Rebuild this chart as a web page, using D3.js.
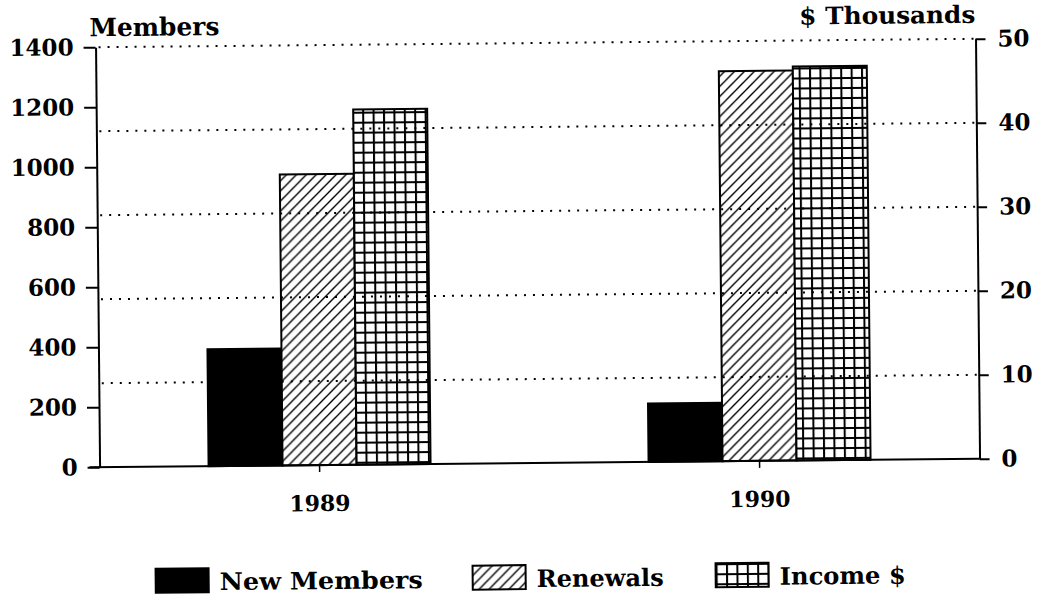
<!DOCTYPE html>
<html>
	<head>
		<meta charset="utf-8"/>
		<title>Members and Income</title>
		<script src="https://d3js.org/d3.v7.min.js"></script>
	</head>
	<style>
	body{ margin:0; background:#fff; }
	#well text{ font-family:"DejaVu Serif", serif; font-weight:bold; fill:#000; }
	#well .axis path, #well .axis line{ stroke:#000; stroke-width:2; }
	</style>
	<body>
	<div id='well'></div>
	<script>
		// values
		var years = ["1989", "1990"];
		var series = ["New Members", "Renewals", "Income $"];
		var newMembers = [390, 195];
		var renewals = [970, 1300];
		var income = [42.3, 46.9];          // $ thousands, right axis
		var memberTicks = [0, 200, 400, 600, 800, 1000, 1200, 1400];
		var dollarTicks = [0, 10, 20, 30, 40, 50];

		var width = 1037, height = 597;
		var plotLeft = 98, plotRight = 978, plotTop = 43, plotBottom = 463;

		var svg = d3.select('#well').append('svg')
			.attr('width', width)
			.attr('height', height);

		var defs = svg.append('defs');
		var hatch = defs.append('pattern')
			.attr('id', 'hatch')
			.attr('patternUnits', 'userSpaceOnUse')
			.attr('width', 10).attr('height', 10);
		hatch.append('rect').attr('width', 10).attr('height', 10).attr('fill', '#fff');
		hatch.append('path')
			.attr('d', 'M0,10 L10,0 M-2.5,2.5 L2.5,-2.5 M7.5,12.5 L12.5,7.5')
			.attr('stroke', '#000').attr('stroke-width', 1.4);

		var grid = defs.append('pattern')
			.attr('id', 'grid')
			.attr('patternUnits', 'userSpaceOnUse')
			.attr('width', 10.4).attr('height', 10);
		grid.append('rect').attr('width', 10.4).attr('height', 10).attr('fill', '#fff');
		grid.append('path')
			.attr('d', 'M1,0 V10 M0,1 H10.4')
			.attr('stroke', '#000').attr('stroke-width', 2);

		var fills = {"New Members": "#000", "Renewals": "url(#hatch)", "Income $": "url(#grid)"};

		// the scan is tilted a little
		var main = svg.append('g')
			.attr('transform', 'rotate(-0.55,538,300)');

		var x = d3.scalePoint().domain(years).range([plotLeft, plotRight]).padding(0.5);
		var x1 = d3.scaleBand().domain(series).range([-111, 111]);
		var yL = d3.scaleLinear().domain([0, 1400]).range([plotBottom, plotTop]);
		var yR = d3.scaleLinear().domain([0, 50]).range([plotBottom, plotTop]);

		var bars = [];
		years.forEach(function(yr, i){
			bars.push({year: yr, s: "New Members", v: newMembers[i], y: yL});
			bars.push({year: yr, s: "Renewals", v: renewals[i], y: yL});
			bars.push({year: yr, s: "Income $", v: income[i], y: yR});
		});

		main.selectAll('rect.bar')
			.data(bars)
			.enter().append('rect')
			.attr('class', 'bar')
			.attr('x', function(d){ return x(d.year) + x1(d.s); })
			.attr('width', x1.bandwidth())
			.attr('y', function(d){ return d.y(d.v); })
			.attr('height', function(d){ return plotBottom - d.y(d.v); })
			.attr('fill', function(d){ return fills[d.s]; })
			.attr('stroke', '#000')
			.attr('stroke-width', 2);

		// dotted grid on the $ ticks, lying over the bars
		main.selectAll('line.grid')
			.data(dollarTicks.slice(1))
			.enter().append('line')
			.attr('class', 'grid')
			.attr('x1', plotLeft + 3).attr('x2', plotRight - 2)
			.attr('y1', function(d){ return yR(d); })
			.attr('y2', function(d){ return yR(d); })
			.attr('stroke', '#000')
			.attr('stroke-width', 2)
			.attr('stroke-dasharray', '2,7');

		// x axis
		main.append('line')
			.attr('x1', plotLeft - 10).attr('x2', plotRight)
			.attr('y1', plotBottom).attr('y2', plotBottom)
			.attr('stroke', '#000').attr('stroke-width', 2);
		main.selectAll('line.xtick')
			.data(years)
			.enter().append('line')
			.attr('x1', function(d){ return x(d); })
			.attr('x2', function(d){ return x(d); })
			.attr('y1', plotBottom).attr('y2', plotBottom + 7)
			.attr('stroke', '#000').attr('stroke-width', 1.5);
		main.selectAll('text.xlab')
			.data(years)
			.enter().append('text')
			.attr('x', function(d){ return x(d); })
			.attr('y', plotBottom + 46)
			.attr('text-anchor', 'middle')
			.style('font-size', '22px')
			.text(function(d){ return d; });

		var yAxisL = d3.axisLeft(yL).tickValues(memberTicks).tickFormat(d3.format('d'))
			.tickSize(12).tickSizeOuter(0).tickPadding(10);
		var gl = main.append('g')
			.attr('class', 'axis')
			.attr('transform', 'translate(' + plotLeft + ',0)')
			.call(yAxisL);
		gl.selectAll('text').style('font-size', '23px');

		var yAxisR = d3.axisRight(yR).tickValues(dollarTicks).tickFormat(d3.format('d'))
			.tickSize(10).tickSizeOuter(0).tickPadding(12);
		var gr = main.append('g')
			.attr('class', 'axis')
			.attr('transform', 'translate(' + plotRight + ',0)')
			.call(yAxisR);
		gr.selectAll('text').style('font-size', '23px');

		main.append('text')
			.attr('x', 92).attr('y', 32)
			.attr('textLength', 130).attr('lengthAdjust', 'spacingAndGlyphs')
			.style('font-size', '25px')
			.text('Members');
		main.append('text')
			.attr('x', 978).attr('y', 27)
			.attr('text-anchor', 'end')
			.attr('textLength', 176).attr('lengthAdjust', 'spacingAndGlyphs')
			.style('font-size', '24px')
			.text('$ Thousands');

		// legend
		var legendX = [153, 470, 713];
		var legendW = [203, 127, 126];
		var lg = main.selectAll('g.legend')
			.data(series)
			.enter().append('g')
			.attr('class', 'legend')
			.attr('transform', function(d, i){ return 'translate(' + legendX[i] + ',565)'; });
		lg.append('rect')
			.attr('width', 53).attr('height', 24)
			.attr('fill', function(d){ return fills[d]; })
			.attr('stroke', '#000').attr('stroke-width', 2);
		lg.append('text')
			.attr('x', 64).attr('y', 22)
			.attr('textLength', function(d, i){ return legendW[i]; })
			.attr('lengthAdjust', 'spacingAndGlyphs')
			.style('font-size', '24px')
			.text(function(d){ return d; });
	</script>
	</body>
</html>
